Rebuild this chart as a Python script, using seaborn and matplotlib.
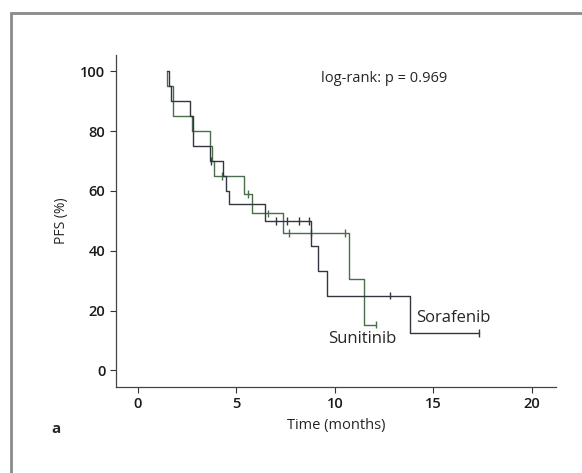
import pandas as pd
import seaborn as sns
import matplotlib.pyplot as plt
from matplotlib.patches import Rectangle

# --- Kaplan-Meier step data ---
suni_time = [1.5, 1.5, 1.8, 2.75, 3.65, 3.75, 3.9, 5.4, 5.8, 7.35, 10.7, 11.5, 12.1]
suni_surv = [100, 95, 85, 80, 75, 70, 65, 59, 52.5, 46, 30.5, 15.3, 15.3]
sora_time = [1.5, 1.6, 1.7, 2.65, 2.8, 3.65, 4.35, 4.5, 4.65, 6.45, 8.8, 9.15, 9.6, 13.8, 17.3]
sora_surv = [100, 95, 90, 85, 75, 70, 65, 60, 55.5, 50, 41.7, 33.3, 25, 12.5, 12.5]

# --- censored observations ---
suni_cens_time = [4.3, 5.6, 6.6, 7.7, 8.8, 10.5, 12.1]
suni_cens_surv = [65, 59, 52.5, 46, 46, 46, 15.3]
sora_cens_time = [3.7, 7.0, 7.6, 8.2, 8.7, 12.8, 17.3]
sora_cens_surv = [70, 50, 50, 50, 50, 25, 12.5]

drugs = ["Sunitinib", "Sorafenib"]
colors = {"Sunitinib": "#4a6e4c", "Sorafenib": "#33363f"}

df = pd.concat([
    pd.DataFrame({"time": suni_time, "surv": suni_surv, "drug": "Sunitinib"}),
    pd.DataFrame({"time": sora_time, "surv": sora_surv, "drug": "Sorafenib"}),
], ignore_index=True)
cens = pd.concat([
    pd.DataFrame({"time": suni_cens_time, "surv": suni_cens_surv, "drug": "Sunitinib"}),
    pd.DataFrame({"time": sora_cens_time, "surv": sora_cens_surv, "drug": "Sorafenib"}),
], ignore_index=True)

sns.set_style("ticks")
plt.rcParams['font.family'] = ['Open Sans', 'DejaVu Sans']

fig = plt.figure(figsize=(5.82, 4.73), dpi=100)
ax = fig.add_axes([0.199, 0.182, 0.756, 0.702])

sns.lineplot(data=df, x="time", y="surv", hue="drug", hue_order=drugs, palette=colors,
             estimator=None, sort=False, drawstyle="steps-post", lw=1.0, legend=False, ax=ax)
sns.scatterplot(data=cens, x="time", y="surv", hue="drug", hue_order=drugs, palette=colors,
                marker="|", s=30, linewidth=1.0, legend=False, ax=ax)

ax.set_xlim(-1.1, 21.2)
ax.set_ylim(-5.5, 105.5)
ax.set_xticks([0, 5, 10, 15, 20])
ax.set_yticks([0, 20, 40, 60, 80, 100])
ax.tick_params(labelsize=10.5, length=4, width=0.8, colors="#333333", labelcolor="#1a1a1a")
for lab in ax.get_xticklabels() + ax.get_yticklabels():
    lab.set_fontweight("semibold")
for s in ["left", "bottom"]:
    ax.spines[s].set_color("#444444")
    ax.spines[s].set_linewidth(0.9)
sns.despine(ax=ax)

ax.set_xlabel("Time (months)", fontsize=10.5, labelpad=5, fontweight="medium")
ax.set_ylabel("PFS (%)", fontsize=10, labelpad=8, fontweight="medium")

ax.text(12.5, 97.5, "log-rank: p = 0.969", fontsize=10.5, ha="center", va="center",
        fontweight="medium")
ax.text(16.0, 17.5, "Sorafenib", fontsize=12, ha="center", va="center", fontweight="medium")
ax.text(11.4, 10.5, "Sunitinib", fontsize=12, ha="center", va="center", fontweight="medium")

fig.text(56 / 582, 1 - 429 / 473, "a", fontsize=11, fontweight="bold", ha="center", va="center")

# grey frame round the panel
fig.patches.append(Rectangle((11 / 582, -0.1), 1.2, 1 - 13 / 473 + 0.1,
                             transform=fig.transFigure, fill=False,
                             edgecolor="#8a8a8a", lw=2))

plt.savefig("out.png", dpi=100)
plt.close()
